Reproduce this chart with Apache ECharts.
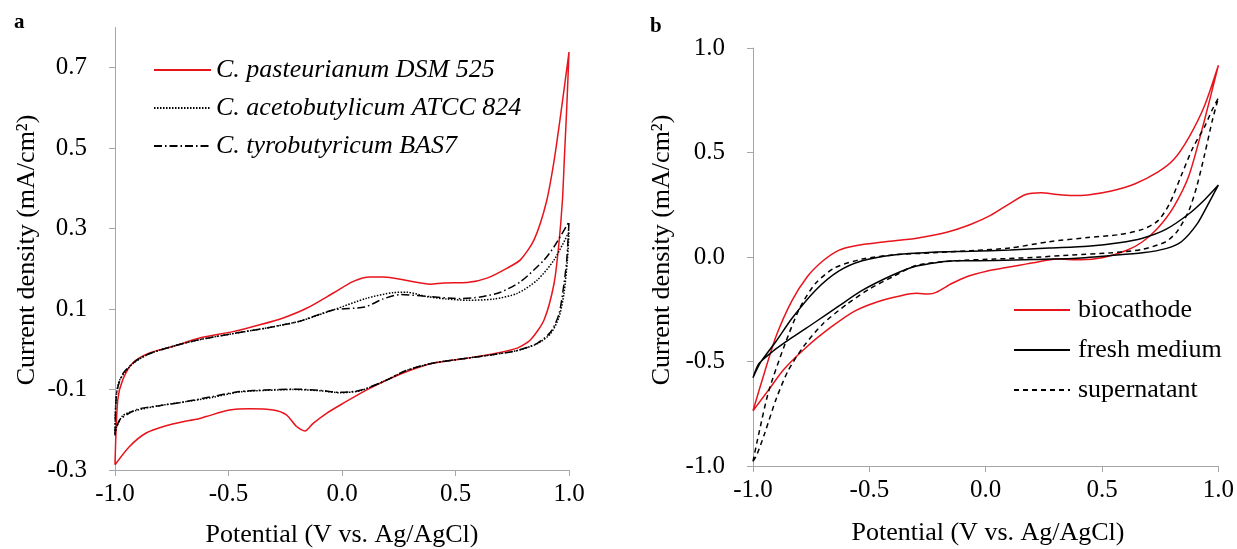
<!DOCTYPE html>
<html>
<head>
<meta charset="utf-8">
<script src="https://cdn.jsdelivr.net/npm/echarts@6/dist/echarts.min.js"></script>
<style>
  html, body { margin: 0; padding: 0; background: #fff; }
  #chart { width: 1237px; height: 549px; }
</style>
</head>
<body>
<div id="chart"></div>
<script>
  // panel a: cyclic voltammograms of the three strains (forward scan then return scan)
  var pastV = [-1.0, -0.988, -0.966, -0.922, -0.848, -0.745, -0.627, -0.48, -0.362, -0.259, -0.156, -0.038, 0.05, 0.124, 0.183, 0.286, 0.389, 0.448, 0.551, 0.639, 0.728, 0.787, 0.846, 0.899, 0.934, 0.969, 1.0,
    0.99, 0.98, 0.971, 0.955, 0.934, 0.89, 0.831, 0.772, 0.669, 0.551, 0.404, 0.286, 0.183, 0.109, 0.006, -0.068, -0.127, -0.163, -0.2, -0.245, -0.303, -0.406, -0.495, -0.598, -0.642, -0.701, -0.775, -0.863, -0.937, -1.0];
  var pastI = [-0.287, -0.126, -0.076, -0.034, -0.009, 0.007, 0.028, 0.044, 0.061, 0.078, 0.102, 0.14, 0.169, 0.18, 0.18, 0.171, 0.162, 0.165, 0.166, 0.177, 0.202, 0.223, 0.272, 0.363, 0.468, 0.607, 0.739,
    0.6, 0.48, 0.37, 0.26, 0.163, 0.073, 0.024, 0.003, -0.011, -0.022, -0.034, -0.055, -0.08, -0.101, -0.134, -0.159, -0.184, -0.203, -0.192, -0.163, -0.151, -0.148, -0.151, -0.167, -0.174, -0.18, -0.19, -0.208, -0.242, -0.287];

  var acetoV = [-1.0, -0.996, -0.981, -0.922, -0.848, -0.73, -0.627, -0.48, -0.333, -0.186, -0.038, 0.109, 0.227, 0.286, 0.374, 0.462, 0.551, 0.669, 0.772, 0.86, 0.934, 1.0,
    0.993, 0.978, 0.956, 0.919, 0.86, 0.772, 0.669, 0.551, 0.404, 0.286, 0.183, 0.08, -0.009, -0.097, -0.215, -0.333, -0.451, -0.568, -0.686, -0.804, -0.907, -0.966, -1.0];
  var acetoI = [-0.21, -0.127, -0.078, -0.036, -0.011, 0.01, 0.024, 0.039, 0.053, 0.07, 0.098, 0.127, 0.141, 0.142, 0.131, 0.125, 0.122, 0.125, 0.139, 0.172, 0.222, 0.292,
    0.222, 0.139, 0.08, 0.039, 0.014, -0.003, -0.013, -0.022, -0.034, -0.052, -0.08, -0.103, -0.108, -0.103, -0.1, -0.102, -0.106, -0.119, -0.13, -0.14, -0.152, -0.165, -0.202];

  var tyroV = [-1.0, -0.993, -0.966, -0.907, -0.848, -0.73, -0.627, -0.48, -0.333, -0.186, -0.038, 0.1, 0.18, 0.256, 0.345, 0.521, 0.609, 0.698, 0.786, 0.89, 0.934, 1.0,
    0.99, 0.978, 0.956, 0.919, 0.86, 0.772, 0.669, 0.551, 0.404, 0.286, 0.183, 0.08, -0.009, -0.097, -0.215, -0.333, -0.451, -0.568, -0.686, -0.804, -0.907, -0.981, -1.0];
  var tyroI = [-0.214, -0.11, -0.061, -0.028, -0.011, 0.01, 0.024, 0.039, 0.053, 0.07, 0.098, 0.105, 0.125, 0.136, 0.133, 0.126, 0.13, 0.142, 0.168, 0.222, 0.255, 0.317,
    0.222, 0.163, 0.088, 0.043, 0.015, -0.003, -0.013, -0.022, -0.034, -0.052, -0.08, -0.102, -0.107, -0.102, -0.099, -0.101, -0.105, -0.117, -0.13, -0.14, -0.15, -0.177, -0.214];

  // panel b
  var bioV = [-1.0, -0.95, -0.9, -0.833, -0.766, -0.699, -0.632, -0.565, -0.431, -0.297, -0.163, -0.063, 0.021, 0.105, 0.172, 0.238, 0.305, 0.372, 0.439, 0.54, 0.64, 0.741, 0.808, 0.874, 0.941, 1.0,
    0.941, 0.874, 0.808, 0.741, 0.674, 0.607, 0.506, 0.406, 0.305, 0.205, 0.105, 0.004, -0.079, -0.146, -0.213, -0.247, -0.297, -0.364, -0.464, -0.565, -0.665, -0.766, -0.866, -0.933, -1.0];
  var bioI = [-0.736, -0.55, -0.377, -0.21, -0.093, -0.018, 0.032, 0.053, 0.073, 0.09, 0.12, 0.157, 0.199, 0.257, 0.299, 0.307, 0.299, 0.294, 0.297, 0.316, 0.349, 0.407, 0.466, 0.574, 0.725, 0.917,
    0.658, 0.391, 0.24, 0.14, 0.073, 0.032, -0.002, -0.013, -0.01, -0.027, -0.047, -0.068, -0.093, -0.127, -0.169, -0.177, -0.174, -0.185, -0.214, -0.26, -0.336, -0.427, -0.536, -0.636, -0.736];

  var freshV = [-1.0, -0.967, -0.9, -0.833, -0.732, -0.632, -0.531, -0.397, -0.23, -0.063, 0.105, 0.272, 0.439, 0.573, 0.674, 0.774, 0.874, 0.941, 1.0,
    0.958, 0.908, 0.841, 0.774, 0.674, 0.54, 0.372, 0.205, 0.038, -0.13, -0.297, -0.397, -0.531, -0.632, -0.732, -0.833, -0.916, -0.975, -1.0];
  var freshI = [-0.578, -0.503, -0.402, -0.294, -0.16, -0.068, -0.018, 0.01, 0.023, 0.027, 0.033, 0.043, 0.052, 0.068, 0.09, 0.132, 0.207, 0.274, 0.344,
    0.257, 0.157, 0.073, 0.04, 0.02, 0.007, -0.007, -0.012, -0.017, -0.018, -0.043, -0.085, -0.16, -0.235, -0.311, -0.386, -0.452, -0.511, -0.578];

  var superV = [-1.0, -0.975, -0.933, -0.866, -0.799, -0.732, -0.649, -0.531, -0.397, -0.23, -0.063, 0.105, 0.272, 0.439, 0.573, 0.674, 0.741, 0.791, 0.841, 0.891, 0.941, 0.975, 1.0,
    0.975, 0.941, 0.908, 0.874, 0.824, 0.774, 0.674, 0.54, 0.372, 0.205, 0.038, -0.13, -0.297, -0.397, -0.498, -0.598, -0.699, -0.782, -0.849, -0.9, -0.95, -0.983, -1.0];
  var superI = [-0.978, -0.845, -0.644, -0.427, -0.244, -0.127, -0.052, -0.01, 0.01, 0.02, 0.03, 0.043, 0.073, 0.093, 0.107, 0.132, 0.174, 0.257, 0.391, 0.524, 0.624, 0.708, 0.761,
    0.658, 0.491, 0.341, 0.224, 0.124, 0.073, 0.037, 0.02, 0.01, -0.002, -0.01, -0.018, -0.04, -0.093, -0.152, -0.227, -0.319, -0.427, -0.544, -0.678, -0.845, -0.945, -0.978];

  var xTicks = [-1.0, -0.5, 0.0, 0.5, 1.0];
  var yTicksA = [-0.3, -0.1, 0.1, 0.3, 0.5, 0.7];
  var yTicksB = [-1.0, -0.5, 0.0, 0.5, 1.0];

  function pairs(xs, ys) {
    return xs.map(function (x, i) { return [x, ys[i]]; });
  }

  var serif = "'Liberation Serif', 'Times New Roman', serif";
  var axisGray = '#a6a6a6';

  function xAxisOf(idx) {
    return {
      type: 'value', gridIndex: idx, min: -1, max: 1,
      axisLine: { onZero: false, lineStyle: { color: axisGray, width: 1 } },
      axisTick: { length: 6, lineStyle: { color: axisGray }, customValues: xTicks },
      axisLabel: { customValues: xTicks, margin: 12, color: '#000', fontFamily: serif, fontSize: 25,
        formatter: function (v) { return v.toFixed(1); } },
      splitLine: { show: false }
    };
  }
  function yAxisOf(idx, min, max, ticks) {
    return {
      type: 'value', gridIndex: idx, min: min, max: max,
      axisLine: { show: true, onZero: false, lineStyle: { color: axisGray, width: 1 } },
      axisTick: { show: true, length: 6, lineStyle: { color: axisGray }, customValues: ticks },
      axisLabel: { customValues: ticks, margin: 28, color: '#000', fontFamily: serif, fontSize: 25,
        formatter: function (v) { return v.toFixed(1); } },
      splitLine: { show: false }
    };
  }
  function line(name, idx, data, color, type) {
    return {
      name: name, type: 'line', xAxisIndex: idx, yAxisIndex: idx,
      data: data, symbol: 'none', smooth: 0.25, animation: false,
      itemStyle: { color: color },
      lineStyle: { color: color, width: 1.5, type: type }
    };
  }

  var myChart = echarts.init(document.getElementById('chart'));
  myChart.setOption({
    backgroundColor: '#fff',
    animation: false,
    grid: [
      { left: 115, top: 27.5, width: 454, height: 442.5 },
      { left: 753, top: 48, width: 471, height: 418 }
    ],
    xAxis: [xAxisOf(0), xAxisOf(1)],
    yAxis: [yAxisOf(0, -0.3, 0.8, yTicksA), yAxisOf(1, -1, 1, yTicksB)],
    legend: [
      {
        left: 148, top: 52, orient: 'vertical', itemWidth: 57, itemHeight: 14, itemGap: 12,
        itemStyle: { opacity: 0 },
        data: ['C. pasteurianum DSM 525', 'C. acetobutylicum ATCC 824', 'C. tyrobutyricum BAS7'],
        textStyle: { fontFamily: serif, fontSize: 26, fontStyle: 'italic', color: '#000', lineHeight: 26 }
      },
      {
        left: 1008, top: 292, orient: 'vertical', itemWidth: 56, itemHeight: 14, itemGap: 14,
        itemStyle: { opacity: 0 },
        data: ['biocathode', 'fresh medium', 'supernatant'],
        textStyle: { fontFamily: serif, fontSize: 26, color: '#000', lineHeight: 26, padding: [0, 0, 0, 3] }
      }
    ],
    graphic: [
      { type: 'text', left: 14, top: 12, style: { text: 'a', font: 'bold 21px ' + serif, fill: '#000' } },
      { type: 'text', left: 650, top: 16, style: { text: 'b', font: 'bold 21px ' + serif, fill: '#000' } },
      { type: 'text', x: 342, y: 535, style: { text: 'Potential (V vs. Ag/AgCl)', font: '26px ' + serif, fill: '#000', align: 'center', verticalAlign: 'middle' } },
      { type: 'text', x: 988, y: 533, style: { text: 'Potential (V vs. Ag/AgCl)', font: '26px ' + serif, fill: '#000', align: 'center', verticalAlign: 'middle' } },
      { type: 'text', x: 27, y: 250, rotation: Math.PI / 2, style: { text: 'Current density (mA/cm²)', font: '26px ' + serif, fill: '#000', align: 'center', verticalAlign: 'middle' } },
      { type: 'text', x: 662, y: 250, rotation: Math.PI / 2, style: { text: 'Current density (mA/cm²)', font: '26px ' + serif, fill: '#000', align: 'center', verticalAlign: 'middle' } }
    ],
    series: [
      line('C. pasteurianum DSM 525', 0, pairs(pastV, pastI), '#e8141c', 'solid'),
      line('C. acetobutylicum ATCC 824', 0, pairs(acetoV, acetoI), '#000', [1.5, 1.5]),
      line('C. tyrobutyricum BAS7', 0, pairs(tyroV, tyroI), '#000', [8, 3, 1.5, 3]),
      line('biocathode', 1, pairs(bioV, bioI), '#e8141c', 'solid'),
      line('fresh medium', 1, pairs(freshV, freshI), '#000', 'solid'),
      line('supernatant', 1, pairs(superV, superI), '#000', [5, 4])
    ]
  });
</script>
</body>
</html>
